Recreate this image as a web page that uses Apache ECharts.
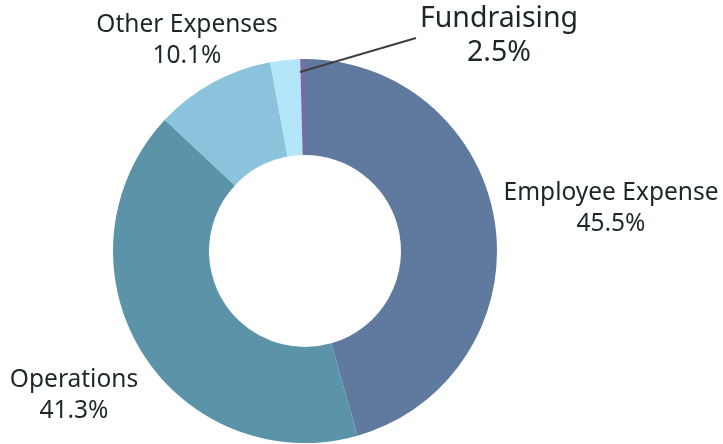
<!DOCTYPE html>
<html><head><meta charset="utf-8">
<script src="https://cdn.jsdelivr.net/npm/echarts@6/dist/echarts.min.js"></script>
<style>html,body{margin:0;padding:0;background:#fff}#c{width:723px;height:444px}</style>
</head><body><div id="c"></div>
<script>
const categories = ['Employee Expense', 'Operations', 'Other Expenses', 'Fundraising', 'Other'];
const values = [45.5, 41.3, 10.1, 2.5, 0.4];
const colors = ['#5f799f', '#5b93a9', '#8bc3dd', '#b3e6f9', '#7b6aa8'];
const showLabel = [true, true, true, true, false];

const labelPos = [
  {x: 611, y: 209, size: 24.5, lh: 31},
  {x: 74, y: 396, size: 24.5, lh: 31},
  {x: 187, y: 41, size: 24.5, lh: 31},
  {x: 499, y: 36, size: 28.5, lh: 34}
];

const chart = echarts.init(document.getElementById('c'), null, {renderer: 'canvas'});
const center = [305, 251];
const radius = [96, 192];
chart.setOption({
  animation: false,
  series: [{
    type: 'pie',
    z: 2,
    center: center,
    radius: radius,
    startAngle: 90,
    clockwise: true,
    label: {show: false},
    labelLine: {show: false},
    data: categories.map((n, i) => ({name: n, value: values[i], itemStyle: {color: colors[i]}}))
  }, {
    type: 'pie',
    z: 5,
    silent: true,
    center: center,
    radius: radius,
    startAngle: 90,
    clockwise: true,
    avoidLabelOverlap: false,
    data: categories.map((n, i) => ({
      name: n, value: values[i],
      itemStyle: {color: 'rgba(0,0,0,0)'},
      label: {
        show: showLabel[i],
        fontSize: i < 4 ? labelPos[i].size : 21,
        lineHeight: i < 4 ? labelPos[i].lh : 30
      },
      labelLine: {show: i === 3, lineStyle: {color: '#404040', width: 2}}
    })),
    label: {
      position: 'outside',
      formatter: p => p.name + '\n' + p.value.toFixed(1) + '%',
      color: '#1c2828',
      fontFamily: 'Noto Sans',
      align: 'center'
    },
    labelLayout: function (params) {
      const i = params.dataIndex;
      if (i > 3) return {};
      const lp = labelPos[i];
      const r = {x: lp.x, y: lp.y, align: 'center', verticalAlign: 'middle'};
      if (i === 3) {
        r.labelLinePoints = [[416, 38], [416, 38], [300, 72]];
      }
      return r;
    }
  }]
});
</script></body></html>
